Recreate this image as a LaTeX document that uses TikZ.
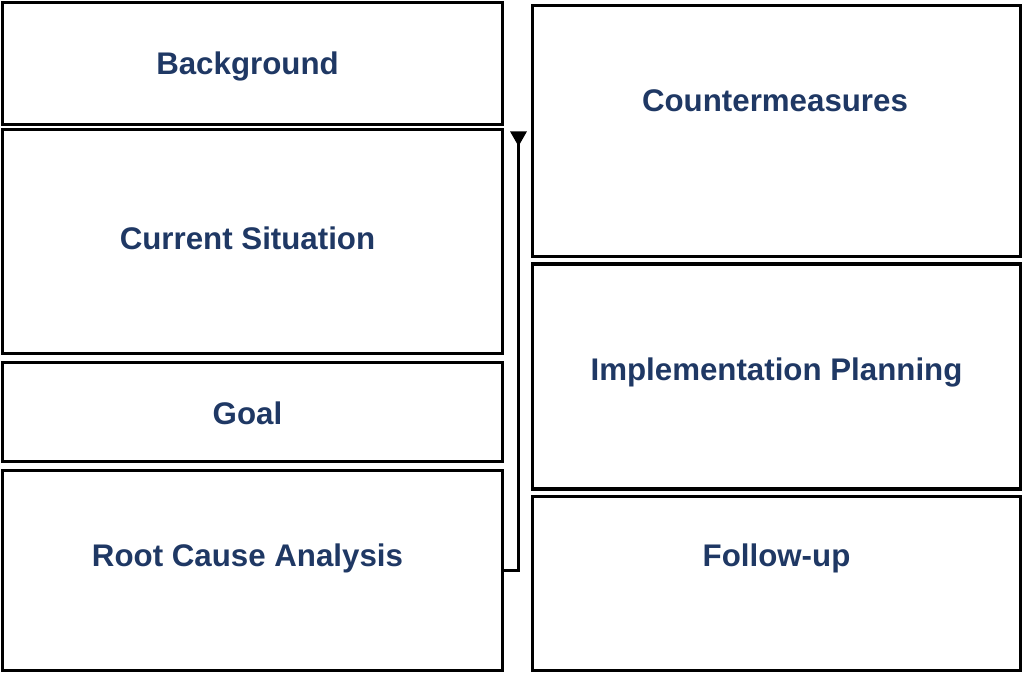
\documentclass[tikz,border=0pt]{standalone}
\usepackage{fontspec}
\setmainfont{Liberation Sans}
\usepackage{tikz}
\usetikzlibrary{arrows.meta}
\definecolor{navy}{HTML}{1F3864}

\begin{document}
\begin{tikzpicture}[x=0.02cm,y=-0.02cm]
	\tikzstyle{every node}=[shape=rectangle,anchor=center,inner sep=0pt];
	\tikzstyle{box}=[draw,line width=1.9pt,minimum width=10cm];
	\tikzstyle{rbox}=[draw,line width=1.9pt,minimum width=9.76cm];
	\tikzstyle{txt}=[text=navy,font=\fontsize{17.8}{21}\selectfont\bfseries];
	\useasboundingbox (0,0) rectangle (1024,675);
	% left column
	\node[box,minimum height=2.44cm] (bg) at (252.5,63.5) {};
	\node[box,minimum height=4.48cm] (cs) at (252.5,241.5) {};
	\node[box,minimum height=1.98cm] (goal) at (252.5,412) {};
	\node[box,minimum height=4cm] (rca) at (252.5,570.5) {};
	% right column
	\node[rbox,minimum height=5.01cm] (cm) at (776.5,131) {};
	\node[rbox,minimum height=4.5cm] (ip) at (776.5,376.5) {};
	\node[rbox,minimum height=3.48cm] (fu) at (776.5,583.5) {};
	% texts
	\node[txt] at ([xshift=-0.1cm,yshift=-0.06cm]bg.center) {Background};
	\node[txt] at ([xshift=-0.1cm,yshift=0.06cm]cs.center) {Current Situation};
	\node[txt] at ([xshift=-0.1cm,yshift=-0.02cm]goal.center) {Goal};
	\node[txt] at ([xshift=-0.1cm,yshift=0.24cm]rca.center) {Root Cause Analysis};
	\node[txt] at ([xshift=-0.03cm,yshift=0.6cm]cm.center) {Countermeasures};
	\node[txt] at ([yshift=0.08cm]ip.center) {Implementation Planning};
	\node[txt] at ([yshift=0.5cm]fu.center) {Follow-up};
	% connector
	\coordinate (jt) at (518.5,131.5);
	\draw[line width=1.9pt,-{Triangle[reversed,width=9pt,length=8.5pt]}] (rca.east) -| (jt);
\end{tikzpicture}
\end{document}
